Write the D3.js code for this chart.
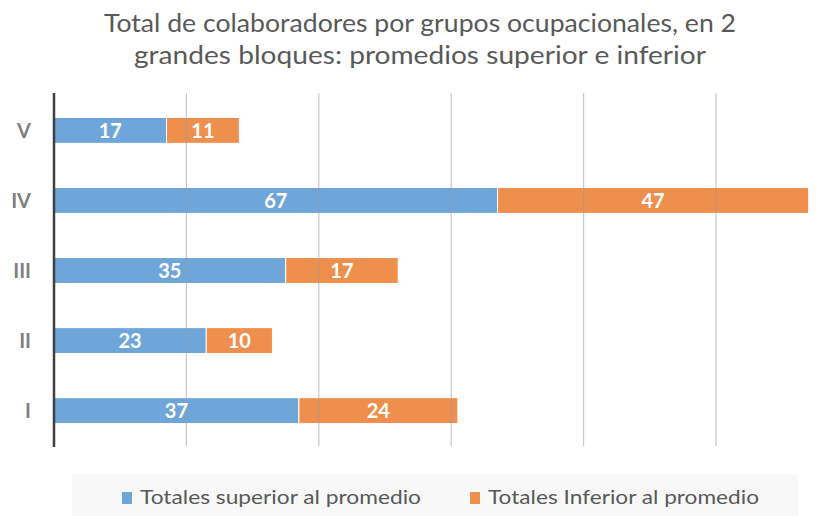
<!DOCTYPE html>
<html>
<head>
<meta charset="utf-8">
<script src="https://cdn.jsdelivr.net/npm/d3@7"></script>
<style>
  body { margin: 0; background: #fff; }
  text { font-family: Lato, "Open Sans", sans-serif; }
</style>
</head>
<body>
<div id="chart"></div>
<script>
// datos
const groups   = ['V', 'IV', 'III', 'II', 'I'];
const superior = [17, 67, 35, 23, 37];
const inferior = [11, 47, 17, 10, 24];
const seriesNames = ['Totales superior al promedio', 'Totales Inferior al promedio'];
const gridTicks = [20, 40, 60, 80, 100];
const titleLines = ['Total de colaboradores por grupos ocupacionales, en 2',
                    'grandes bloques: promedios superior e inferior'];

const W = 834, H = 516;
const colors = ['#6fa6d9', '#ef8f4e'];

const svg = d3.select('#chart').append('svg')
  .attr('width', W).attr('height', H);

// escalas
const x = d3.scaleLinear().domain([0, 115]).range([54, 54 + 115 * 6.62]);
const y = d3.scaleBand().domain(groups).range([95, 446])
  .paddingInner(0.63).paddingOuter(0.32);

// titulo
const titleLen = [632, 572];
svg.append('g').selectAll('text')
  .data(titleLines).join('text')
    .attr('x', 420).attr('y', (d, i) => 32 + i * 32)
    .attr('text-anchor', 'middle')
    .attr('font-size', 25)
    .attr('fill', '#595959')
    .attr('textLength', (d, i) => titleLen[i])
    .attr('lengthAdjust', 'spacingAndGlyphs')
    .text(d => d);

// barras apiladas
const rows = groups.map((g, i) => ({g, vals: [superior[i], inferior[i]]}));
const segs = [];
rows.forEach(r => {
  let acc = 0;
  r.vals.forEach((v, k) => {
    segs.push({g: r.g, k, x0: acc, x1: acc + v, v});
    acc += v;
  });
});

svg.append('g').selectAll('rect')
  .data(segs).join('rect')
    .attr('x', d => x(d.x0))
    .attr('y', d => y(d.g))
    .attr('width', d => x(d.x1) - x(d.x0))
    .attr('height', y.bandwidth())
    .attr('fill', d => colors[d.k])
    .attr('stroke', '#fff')
    .attr('stroke-width', 1);

// lineas de cuadricula (encima, semitransparentes)
svg.append('g').selectAll('line')
  .data(gridTicks).join('line')
    .attr('x1', d => x(d)).attr('x2', d => x(d))
    .attr('y1', 93).attr('y2', 446)
    .attr('stroke', '#9a9a9a')
    .attr('stroke-opacity', 0.55)
    .attr('stroke-width', 1.2);

// eje vertical
svg.append('line')
  .attr('x1', x(0)).attr('x2', x(0))
  .attr('y1', 93).attr('y2', 447)
  .attr('stroke', '#404040').attr('stroke-width', 2.5);

// etiquetas de categoria
svg.append('g').selectAll('text')
  .data(groups).join('text')
    .attr('x', 31)
    .attr('y', d => y(d) + y.bandwidth() / 2)
    .attr('dy', '0.36em')
    .attr('text-anchor', 'end')
    .attr('font-size', 20)
    .attr('font-weight', 'bold')
    .attr('fill', '#7f7f7f')
    .text(d => d);

// etiquetas de datos
svg.append('g').selectAll('text')
  .data(segs).join('text')
    .attr('x', d => (x(d.x0) + x(d.x1)) / 2)
    .attr('y', d => y(d.g) + y.bandwidth() / 2)
    .attr('dy', '0.36em')
    .attr('text-anchor', 'middle')
    .attr('font-size', 20)
    .attr('font-weight', 'bold')
    .attr('fill', '#fff')
    .text(d => d.v);

// leyenda
svg.append('rect')
  .attr('x', 72).attr('y', 474).attr('width', 726).attr('height', 42)
  .attr('fill', '#f8f8f8');

const legX = [122, 470];
const legLen = [281, 271];
const leg = svg.append('g').selectAll('g')
  .data(seriesNames).join('g')
    .attr('transform', (d, i) => `translate(${legX[i]},497)`);
leg.append('rect')
  .attr('x', 0).attr('y', -5).attr('width', 10).attr('height', 12)
  .attr('fill', (d, i) => colors[i]);
leg.append('text')
  .attr('x', 18).attr('dy', '0.36em')
  .attr('font-size', 20)
  .attr('fill', '#595959')
  .attr('textLength', (d, i) => legLen[i])
  .attr('lengthAdjust', 'spacingAndGlyphs')
  .text(d => d);
</script>
</body>
</html>
